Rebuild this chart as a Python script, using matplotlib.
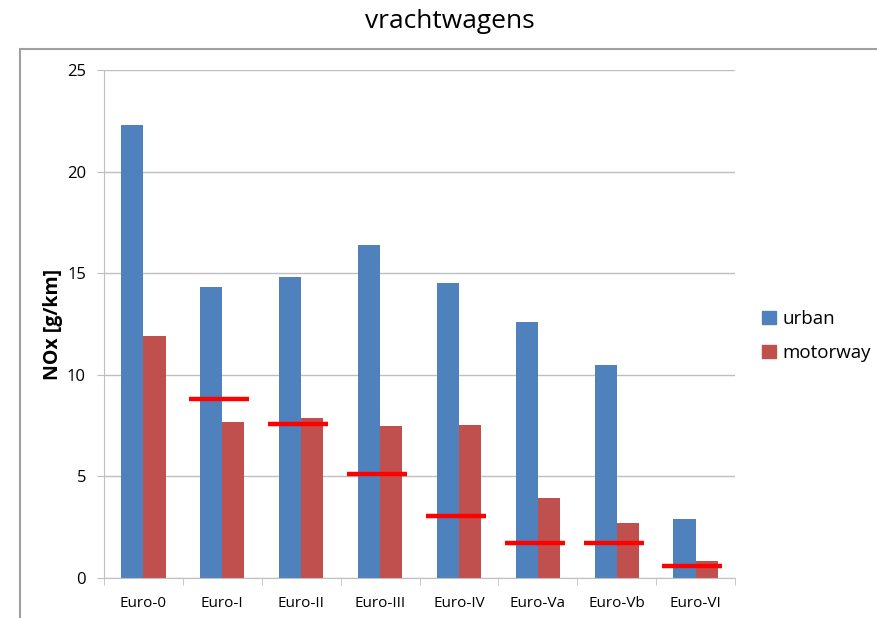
import numpy as np
import matplotlib.pyplot as plt
from matplotlib.patches import Rectangle, Patch

plt.rcParams['font.family'] = ['Open Sans', 'DejaVu Sans']

# data
categories = ["Euro-0", "Euro-I", "Euro-II", "Euro-III", "Euro-IV", "Euro-Va", "Euro-Vb", "Euro-VI"]
urban = [22.3, 14.3, 14.8, 16.4, 14.5, 12.6, 10.5, 2.9]
motorway = [11.9, 7.7, 7.85, 7.5, 7.55, 3.95, 2.7, 0.85]
# red limit lines (no limit shown for Euro-0)
limits = [None, 8.8, 7.6, 5.1, 3.05, 1.72, 1.72, 0.6]

blue = "#4F81BD"
red = "#C0504D"
grid = "#BFBFBF"

fig = plt.figure(figsize=(8.77, 6.18), dpi=100)
# outer chart border (cropped on right and bottom)
fig.patches.append(Rectangle((20 / 877, -0.1), 1.0, 1 - 49 / 618 + 0.1,
                             transform=fig.transFigure, fill=False,
                             edgecolor="#A0A0A0", linewidth=1.5))

ax = fig.add_axes([104 / 877, 1 - 578 / 618, (735 - 104) / 877, (578 - 70) / 618])

x = np.arange(len(categories))
w = 0.28
ax.bar(x - w / 2, urban, w, color=blue, label="urban")
ax.bar(x + w / 2, motorway, w, color=red, label="motorway")

for i, lim in enumerate(limits):
    if lim is not None:
        ax.hlines(lim, i - 0.42, i + 0.34, color="#FF0000", linewidth=3.2, zorder=3)

ax.set_xlim(-0.5, len(categories) - 0.5)
ax.set_ylim(0, 25)
ax.set_yticks([0, 5, 10, 15, 20, 25])
ax.yaxis.grid(True, color=grid, linewidth=1)
ax.set_axisbelow(True)

ax.set_xticks(x)
ax.set_xticklabels(categories, fontsize=11)
ax.set_xticks(np.arange(len(categories) + 1) - 0.5, minor=True)
ax.tick_params(axis="x", which="major", length=0, pad=13)
ax.tick_params(axis="x", which="minor", length=5, color=grid, direction="out")
ax.tick_params(axis="y", length=5, color=grid, labelsize=12, pad=8)

for s in ["top", "right"]:
    ax.spines[s].set_visible(False)
ax.spines["left"].set_color(grid)
ax.spines["bottom"].set_color(grid)

ax.set_ylabel("NOx [g/km]", fontsize=14, fontweight="bold", labelpad=3)

handles = [Patch(color=blue), Patch(color=red)]
fig.legend(handles, ["urban", "motorway"], loc="center left",
           bbox_to_anchor=(745 / 877, 1 - 336 / 618), frameon=False,
           fontsize=13.5, handlelength=0.75, handleheight=0.75,
           handletextpad=0.35, labelspacing=0.85)

fig.text(450 / 877, 1 - 21 / 618, "vrachtwagens", ha="center", va="center", fontsize=19)

fig.savefig("out.png", dpi=100)
